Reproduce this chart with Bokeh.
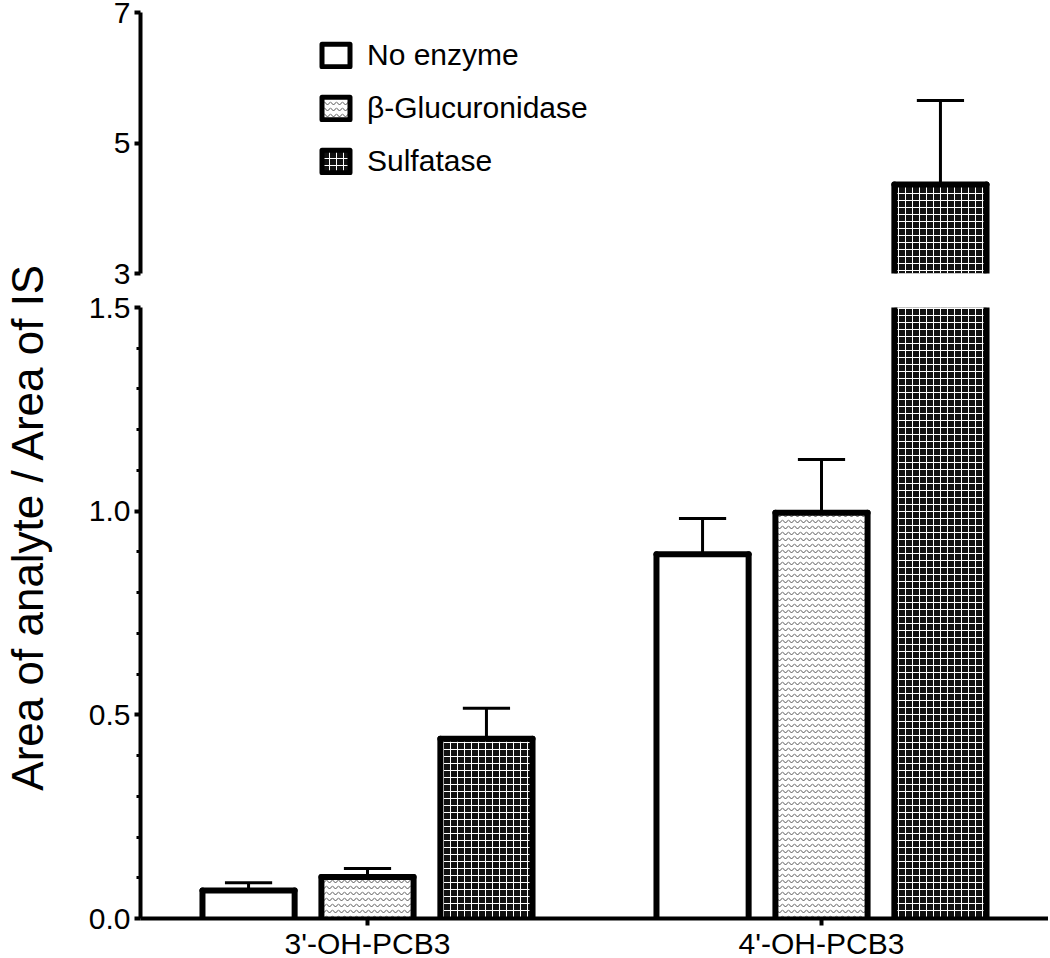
import math
from bokeh.plotting import figure
from bokeh.models import (FactorRange, Range1d, FixedTicker, Legend, LegendItem,
                          Label, ColumnDataSource, PrintfTickFormatter, CDSView, BooleanFilter)
from bokeh.transform import dodge
from bokeh.layouts import row, column
from bokeh.embed import file_html
from bokeh.resources import INLINE

# ---------------- data ----------------
categories = ["3'-OH-PCB3", "4'-OH-PCB3"]
treatments = ["No enzyme", "\u03b2-Glucuronidase", "Sulfatase"]
no_enzyme = [0.069, 0.894]
no_enzyme_err = [0.019, 0.088]
glucuronidase = [0.102, 0.996]
glucuronidase_err = [0.021, 0.131]
sulfatase = [0.441, 4.364]
sulfatase_err = [0.075, 1.287]
lower_ticks = [0.0, 0.5, 1.0, 1.5]
lower_minor = [0.1, 0.2, 0.3, 0.4, 0.6, 0.7, 0.8, 0.9, 1.1, 1.2, 1.3, 1.4]
upper_ticks = [3, 5, 7]
y_label = "Area of analyte / Area of IS"

series = [(no_enzyme, no_enzyme_err), (glucuronidase, glucuronidase_err),
          (sulfatase, sulfatase_err)]

# ---------------- styles ----------------
FONT = "Liberation Sans"
FS = "30px"
offsets = [-0.262, 0.0, 0.262]
bar_w = 0.203
cap_half = 0.052
OUTLINE_W = 6
styles = [
    dict(fill_color="white"),
    dict(fill_color="white", hatch_pattern="horizontal_wave", hatch_color="#555555",
         hatch_scale=6, hatch_weight=1),
    dict(fill_color="#111111", hatch_pattern="cross", hatch_color="white",
         hatch_scale=7, hatch_weight=1),
]

x_range = FactorRange(*categories, range_padding=0)

LEFT_W = 68
FRAME_W = 908
BORDER_L = 72
UP_H = 12 + 261 + 17
LOW_H = 17 + 611 + 40


def base_fig(y_start, y_end, frame_h, top, bottom, show_x):
    p = figure(x_range=x_range, y_range=Range1d(y_start, y_end), frame_width=FRAME_W,
               frame_height=frame_h, min_border_left=BORDER_L, min_border_right=0,
               min_border_top=top, min_border_bottom=bottom, toolbar_location=None,
               output_backend="svg", x_axis_location="below" if show_x else None)
    p.outline_line_color = None
    p.xgrid.visible = False
    p.ygrid.visible = False
    ax = p.yaxis[0]
    ax.axis_line_width = 4
    ax.major_tick_line_width = 4
    ax.major_tick_out = 6
    ax.major_tick_in = 0
    ax.minor_tick_line_width = 3
    ax.minor_tick_out = 4
    ax.minor_tick_in = 0
    ax.major_label_text_font = FONT
    ax.major_label_text_font_size = FS
    ax.major_label_text_color = "black"
    ax.major_label_standoff = 4
    if show_x:
        xa = p.xaxis[0]
        xa.axis_line_width = 4
        xa.major_tick_line_width = 4
        xa.major_tick_out = 7
        xa.major_tick_in = 0
        xa.minor_tick_line_color = None
        xa.major_label_text_font = FONT
        xa.major_label_text_font_size = FS
        xa.major_label_text_color = "black"
        xa.major_label_standoff = 1
    legend_renderers = []
    for (vals, errs), off, st in zip(series, offsets, styles):
        src = ColumnDataSource(dict(cat=categories, top=vals,
                                    up=[v + e for v, e in zip(vals, errs)]))
        shown = CDSView(filter=BooleanFilter([v > y_start for v in vals]))
        lo, hi = off - bar_w / 2, off + bar_w / 2
        # bar body (fill only), only where it reaches into this panel
        p.vbar(x=dodge("cat", off, range=x_range), top="top", bottom=0, width=bar_w,
               source=src, view=shown, line_color=None, **st)
        # bar outline: left, right and top edges
        for xa0, xa1, ya0, ya1 in [(lo, lo, 0, "top"), (hi, hi, 0, "top"), (lo, hi, "top", "top")]:
            p.segment(x0=dodge("cat", xa0, range=x_range), y0=ya0,
                      x1=dodge("cat", xa1, range=x_range), y1=ya1, source=src,
                      line_color="black", line_width=OUTLINE_W, line_cap="round")
        # error bars (upper only)
        p.segment(x0=dodge("cat", off, range=x_range), y0="top",
                  x1=dodge("cat", off, range=x_range), y1="up",
                  source=src, line_color="black", line_width=3)
        p.segment(x0=dodge("cat", off - cap_half, range=x_range), y0="up",
                  x1=dodge("cat", off + cap_half, range=x_range), y1="up",
                  source=src, line_color="black", line_width=3)
        # renderer used only for the legend swatch
        lr = p.vbar(x=dodge("cat", off, range=x_range), top="top", bottom=0, width=bar_w,
                    source=src, line_color="black", line_width=5, line_join="round", **st)
        lr.visible = False
        legend_renderers.append(lr)
    return p, legend_renderers


# upper panel (3 - 7)
upper, up_r = base_fig(3, 7, 261, 12, 17, False)
upper.yaxis[0].ticker = FixedTicker(ticks=upper_ticks, minor_ticks=[])
upper.yaxis[0].formatter = PrintfTickFormatter(format="%d")

legend = Legend(items=[LegendItem(label=t, renderers=[r]) for t, r in zip(treatments, up_r)],
                location=(178, 95), orientation="vertical", glyph_width=35, glyph_height=28,
                label_height=28, spacing=19, padding=0, margin=0, label_standoff=14,
                label_text_font=FONT, label_text_font_size=FS, label_text_color="black",
                border_line_alpha=0, background_fill_alpha=0)
upper.add_layout(legend)

# lower panel (0 - 1.5)
lower, _ = base_fig(0, 1.5, 611, 17, 40, True)
lower.yaxis[0].ticker = FixedTicker(ticks=lower_ticks, minor_ticks=lower_minor)
lower.yaxis[0].formatter = PrintfTickFormatter(format="%.1f")

TOTAL_H = UP_H + LOW_H
lab = figure(width=LEFT_W, height=TOTAL_H, x_range=Range1d(0, LEFT_W),
             y_range=Range1d(0, TOTAL_H), min_border=0, toolbar_location=None,
             output_backend="svg", x_axis_location=None, y_axis_location=None)
lab.outline_line_color = None
lab.xgrid.visible = False
lab.ygrid.visible = False
lab.add_layout(Label(x=27, y=TOTAL_H - 526, text=y_label, angle=math.pi / 2,
                     text_align="center", text_baseline="middle", text_font=FONT,
                     text_font_size="44px", text_color="black"))

layout = row(lab, column(upper, lower))
open("out.html", "w").write(file_html(layout, INLINE))
